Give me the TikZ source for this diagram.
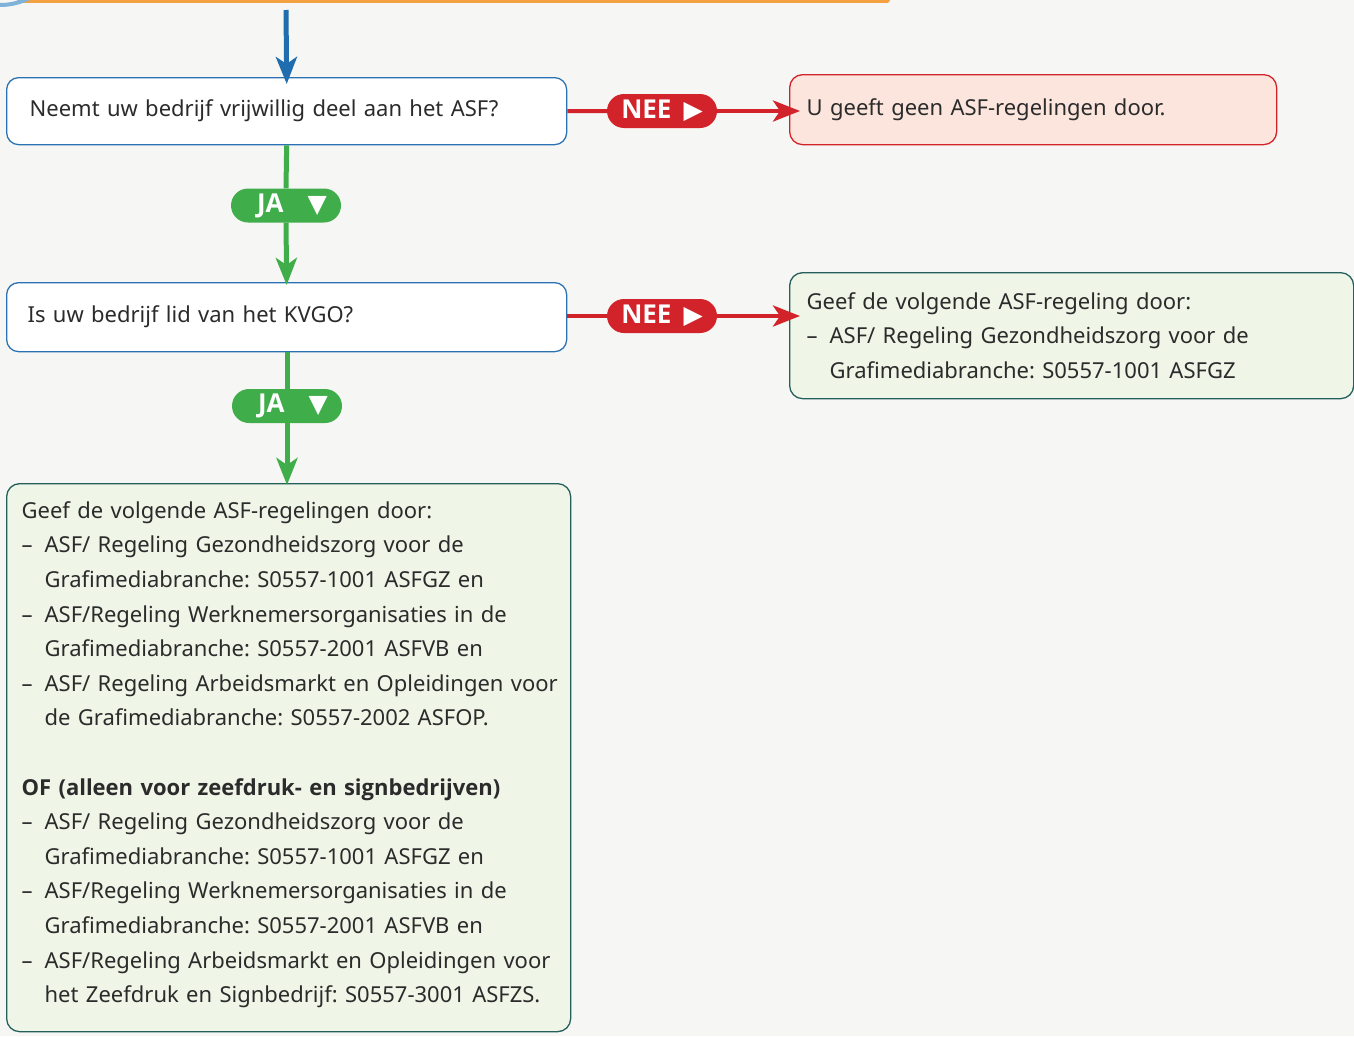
\documentclass[tikz,border=0pt]{standalone}
\usepackage{fontspec}
\setmainfont{Noto Sans}
\newfontfamily\vet{Open Sans}
\newfontfamily\symfont{DejaVu Sans}
\usetikzlibrary{arrows.meta,positioning}
\frenchspacing

\definecolor{achtergrond}{HTML}{F6F6F4}
\definecolor{tekst}{HTML}{2B2B2B}
\definecolor{vblauw}{HTML}{2A72B3}
\definecolor{pijlblauw}{HTML}{1F6DAE}
\definecolor{lichtblauw}{HTML}{7EB2DA}
\definecolor{oranje}{HTML}{F4A142}
\definecolor{neerood}{HTML}{D2232A}
\definecolor{roze}{HTML}{FBE5DD}
\definecolor{jagroen}{HTML}{3FAE4A}
\definecolor{lichtgroen}{HTML}{EFF5E7}
\definecolor{donkergroen}{HTML}{245F5B}

\newcommand{\punt}[1]{\mbox{\makebox[23pt][l]{–}#1}}
\newcommand{\verder}[1]{\mbox{\hspace*{23pt}#1}}
\newcommand{\rechts}{{\symfont\mdseries\fontsize{25}{28}\selectfont ▶}}
\newcommand{\omlaag}{{\symfont\mdseries\fontsize{25}{28}\selectfont ▼}}

\begin{document}
\begin{tikzpicture}[x=1pt,y=-1pt,>={Stealth[length=27pt,width=21pt,inset=7pt]}]
          \tikzstyle{every node}=[font=\fontsize{22}{34.6}\selectfont,text=tekst]
          \tikzstyle{vraag}=[draw=vblauw,fill=white,line width=1.3pt,rounded corners=12pt,anchor=north west,align=left]
          \tikzstyle{uitkomst}=[draw=donkergroen,fill=lichtgroen,line width=1.3pt,rounded corners=13pt,anchor=north west,align=left]
          \tikzstyle{badge}=[rounded corners=17pt,minimum width=110pt,minimum height=34pt,inner sep=0pt,
                             text=white,font=\fontsize{26}{28}\selectfont\vet\bfseries]
          \tikzstyle{nee}=[->,neerood,line width=4pt]
          \tikzstyle{ja}=[->,jagroen,line width=5pt]

          \useasboundingbox (0,0) rectangle (1354,1036);
          \fill[achtergrond] (0,0) rectangle (1354,1036);
          % rest van de vorige stap
          \draw[oranje,line width=6pt,line cap=round] (20,0) -- (887,0);
          \draw[lichtblauw,line width=4pt] (0,-60) circle (65pt);

          \node[vraag,minimum width=560pt,minimum height=67pt,text width=514pt,inner xsep=23pt] (Q1) at (6,77)
               {Neemt uw bedrijf vrijwillig deel aan het ASF?};
          \node[vraag,minimum width=560pt,minimum height=69pt,text width=518pt,inner xsep=21pt] (Q2) at (6,282)
               {Is uw bedrijf lid van het KVGO?};
          \node[uitkomst,draw=neerood,fill=roze,minimum width=487pt,minimum height=70pt,text width=453pt,inner xsep=17pt] (R1) at (789,74)
               {U geeft geen ASF-regelingen door.};
          \node[uitkomst,minimum width=564pt,minimum height=126pt,text width=530pt,inner xsep=17pt] (R2) at (789,272)
               {Geef de volgende ASF-regeling door:\\
                \punt{ASF/ Regeling Gezondheidszorg voor de}\\
                \verder{Grafimediabranche: S0557-1001 ASFGZ}};
          \node[uitkomst,minimum width=564pt,minimum height=548pt,text width=534pt,inner xsep=15pt] (A) at (6,483)
               {Geef de volgende ASF-regelingen door:\\
                \punt{ASF/ Regeling Gezondheidszorg voor de}\\
                \verder{Grafimediabranche: S0557-1001 ASFGZ en}\\
                \punt{ASF/Regeling Werknemersorganisaties in de}\\
                \verder{Grafimediabranche: S0557-2001 ASFVB en}\\
                \punt{ASF/ Regeling Arbeidsmarkt en Opleidingen voor}\\
                \verder{de Grafimediabranche: S0557-2002 ASFOP.}\\
                \mbox{}\\
                {\vet\bfseries OF (alleen voor zeefdruk- en signbedrijven)}\\
                \punt{ASF/ Regeling Gezondheidszorg voor de}\\
                \verder{Grafimediabranche: S0557-1001 ASFGZ en}\\
                \punt{ASF/Regeling Werknemersorganisaties in de}\\
                \verder{Grafimediabranche: S0557-2001 ASFVB en}\\
                \punt{ASF/Regeling Arbeidsmarkt en Opleidingen voor}\\
                \verder{het Zeefdruk en Signbedrijf: S0557-3001 ASFZS.}\rule[-11pt]{0pt}{11pt}};

          \node[badge,fill=neerood] (N1) at (662,111) {NEE\hspace{12pt}\rechts};
          \node[badge,fill=neerood] (N2) at (662,316) {NEE\hspace{12pt}\rechts};
          \node[badge,fill=jagroen] (J1) at (286,205.5) {\hspace*{12pt}JA\hspace{24pt}\omlaag};
          \node[badge,fill=jagroen] (J2) at (287,406) {\hspace*{12pt}JA\hspace{24pt}\omlaag};

          \coordinate (S) at (286,10);
          \draw[->,pijlblauw,line width=5pt,shorten >=-7pt] (S) -- (Q1.north);

          \draw[nee,-] (Q1.east) -- (N1.west);
          \draw[nee,shorten >=-11pt] (N1.east) -- (N1.east -| R1.west);
          \draw[nee,-] (Q2.east |- N2) -- (N2.west);
          \draw[nee,shorten >=-11pt] (N2.east) -- (N2.east -| R2.west);

          \draw[ja,-] (Q1.south) -- (J1.north);
          \draw[ja,shorten >=-3pt] (J1.south) -- (Q2.north);
          \draw[ja,-] (J2.north |- Q2.south) -- (J2.north);
          \draw[ja,shorten >=-2pt] (J2.south) -- (J2.south |- A.north);
\end{tikzpicture}
\end{document}
